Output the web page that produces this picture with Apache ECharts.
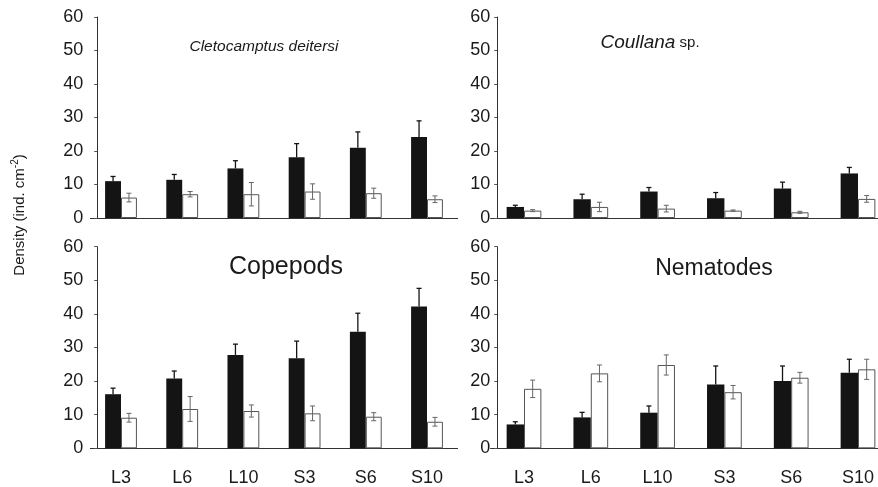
<!DOCTYPE html>
<html><head><meta charset="utf-8">
<script src="https://cdn.jsdelivr.net/npm/echarts@6/dist/echarts.min.js"></script>
<style>html,body{margin:0;padding:0;background:#fff}#c{width:878px;height:487px}</style>
</head><body><div id="c"></div>
<script>
// ---- data ----
const categories = ['L3', 'L6', 'L10', 'S3', 'S6', 'S10'];
const yMin = 0, yMax = 60, yStep = 10;

const cletoBlack    = [11.0, 11.4, 14.8, 18.1, 21.0, 24.2];
const cletoBlackErr = [1.4, 1.6, 2.3, 4.1, 4.7, 4.8];
const cletoWhite    = [6.1, 7.1, 7.1, 7.9, 7.4, 5.6];
const cletoWhiteErr = [1.3, 0.8, 3.5, 2.3, 1.5, 1.0];

const coulBlack     = [3.3, 5.6, 7.9, 5.9, 8.8, 13.3];
const coulBlackErr  = [0.5, 1.5, 1.2, 1.7, 1.9, 1.8];
const coulWhite     = [2.2, 3.3, 2.8, 2.2, 1.7, 5.7];
const coulWhiteErr  = [0.3, 1.4, 1.0, 0.2, 0.3, 1.0];

const copeBlack     = [16.1, 20.8, 27.8, 26.8, 34.7, 42.2];
const copeBlackErr  = [1.8, 2.2, 3.2, 5.1, 5.5, 5.4];
const copeWhite     = [9.1, 11.7, 11.1, 10.4, 9.4, 7.9];
const copeWhiteErr  = [1.3, 3.7, 1.8, 2.2, 1.2, 1.3];

const nemaBlack     = [7.1, 9.2, 10.6, 19.0, 20.0, 22.5];
const nemaBlackErr  = [0.8, 1.5, 2.0, 5.5, 4.5, 4.0];
const nemaWhite     = [17.7, 22.3, 24.8, 16.7, 21.0, 23.5];
const nemaWhiteErr  = [2.6, 2.5, 3.0, 2.0, 1.6, 3.0];

const titles = ['{i|Cletocamptus deitersi}', '{i|Coullana}{n| sp.}', 'Copepods', 'Nematodes'];
const yAxisTitle = ['Density (ind. cm', '-2', ')'];

// ---- layout ----
const panels = [
  {black: cletoBlack, bErr: cletoBlackErr, white: cletoWhite, wErr: cletoWhiteErr,
   grid: {left: 90.4, top: 17, width: 367.2, height: 201}, off: -6.8, labels: false, lm: 14,
   title: {x: 264, y: 39, size: 15.5, sub: 14}},
  {black: coulBlack, bErr: coulBlackErr, white: coulWhite, wErr: coulWhiteErr,
   grid: {left: 490.6, top: 17, width: 400.8, height: 201}, off: -6.6, labels: false, lm: 7,
   title: {x: 650, y: 33, size: 19, sub: 15}},
  {black: copeBlack, bErr: copeBlackErr, white: copeWhite, wErr: copeWhiteErr,
   grid: {left: 90.4, top: 246.7, width: 367.2, height: 201.6}, off: -6.8, labels: true, lm: 14,
   title: {x: 286, y: 255, size: 25, sub: 25}},
  {black: nemaBlack, bErr: nemaBlackErr, white: nemaWhite, wErr: nemaWhiteErr,
   grid: {left: 490.6, top: 246.7, width: 400.8, height: 201.6}, off: -6.6, labels: true, lm: 7,
   title: {x: 714, y: 257, size: 23, sub: 23}}
];

const FONT = '"Liberation Sans", Arial, Helvetica, sans-serif';

function errRender(side, color, both, lw) {
  return function (params, api) {
    const i = api.value(0), m = api.value(1), e = api.value(2);
    const band = api.size([1, 0])[0];
    const c = api.coord([i, m]);
    const top = api.coord([i, m + e]);
    const bot = api.coord([i, both ? m - e : m]);
    const x = c[0] + side * band * 0.13;
    const hw = 2.5;
    const st = {stroke: color, lineWidth: lw};
    const ch = [
      {type: 'line', shape: {x1: x, y1: top[1], x2: x, y2: bot[1]}, style: st},
      {type: 'line', shape: {x1: x - hw, y1: top[1], x2: x + hw, y2: top[1]}, style: st}
    ];
    if (both) ch.push({type: 'line', shape: {x1: x - hw, y1: bot[1], x2: x + hw, y2: bot[1]}, style: st});
    return {type: 'group', children: ch};
  };
}

const grid = [], xAxis = [], yAxis = [], series = [], title = [];
panels.forEach((p, k) => {
  grid.push(Object.assign({containLabel: false, outerBoundsMode: 'none'}, p.grid));
  xAxis.push({
    type: 'category', gridIndex: k, data: categories,
    axisLine: {lineStyle: {color: '#333', width: 1}},
    axisTick: {show: false},
    axisLabel: {show: p.labels, fontSize: 18, color: '#1a1a1a', fontFamily: FONT, margin: 21}
  });
  yAxis.push({
    type: 'value', gridIndex: k, min: yMin, max: yMax, interval: yStep, offset: p.off,
    axisLine: {show: true, lineStyle: {color: '#333', width: 1}},
    axisTick: {show: true, length: 3, lineStyle: {color: '#555'}},
    splitLine: {show: false},
    axisLabel: {fontSize: 18, color: '#1a1a1a', fontFamily: FONT, margin: p.lm}
  });
  series.push({
    type: 'bar', xAxisIndex: k, yAxisIndex: k, data: p.black,
    barWidth: '26%', barGap: '0%',
    itemStyle: {color: '#141414', borderColor: '#141414', borderWidth: 0}
  });
  series.push({
    type: 'bar', xAxisIndex: k, yAxisIndex: k, data: p.white,
    barWidth: '26%', barGap: '0%',
    itemStyle: {color: '#ffffff', borderColor: '#555', borderWidth: 1}
  });
  series.push({
    type: 'custom', xAxisIndex: k, yAxisIndex: k, z: 5,
    data: categories.map((c, j) => [j, p.black[j], p.bErr[j]]),
    renderItem: errRender(-1, '#141414', false, 1.3)
  });
  series.push({
    type: 'custom', xAxisIndex: k, yAxisIndex: k, z: 5,
    data: categories.map((c, j) => [j, p.white[j], p.wErr[j]]),
    renderItem: errRender(1, '#666', true, 1)
  });
  title.push({
    text: titles[k], left: p.title.x, top: p.title.y, textAlign: 'center', padding: 0,
    textStyle: {
      fontSize: p.title.size, fontWeight: 'normal', color: '#1a1a1a', fontFamily: FONT,
      rich: {
        i: {fontSize: p.title.size, fontStyle: 'italic', color: '#1a1a1a', fontFamily: FONT},
        n: {fontSize: p.title.sub, color: '#1a1a1a', fontFamily: FONT}
      }
    }
  });
});

const chart = echarts.init(document.getElementById('c'), null, {renderer: 'canvas'});
chart.setOption({
  animation: false,
  backgroundColor: '#fff',
  title: title,
  grid: grid, xAxis: xAxis, yAxis: yAxis, series: series,
  graphic: [{
    type: 'text', x: 20, y: 215, rotation: Math.PI / 2,
    style: {
      text: '{a|' + yAxisTitle[0] + '}{s|' + yAxisTitle[1] + '}{a|' + yAxisTitle[2] + '}',
      align: 'center', verticalAlign: 'middle', textAlign: 'center', textVerticalAlign: 'middle',
      fill: '#1a1a1a',
      rich: {
        a: {fontSize: 15, fontFamily: FONT, lineHeight: 20, fill: '#1a1a1a', color: '#1a1a1a'},
        s: {fontSize: 10, fontFamily: FONT, lineHeight: 20, verticalAlign: 'top', fill: '#1a1a1a', color: '#1a1a1a'}
      }
    }
  }]
});
</script>
</body></html>
